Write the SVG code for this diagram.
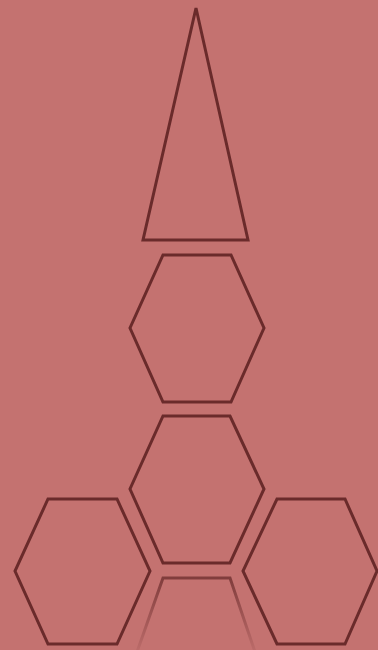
<svg xmlns="http://www.w3.org/2000/svg" width="378" height="650" viewBox="0 0 378 650">
<defs>
<style>
.s{fill:none;stroke:#6a2b2b;stroke-width:3;stroke-linejoin:miter}
</style>
<linearGradient id="fade" x1="0" y1="578" x2="0" y2="650" gradientUnits="userSpaceOnUse">
<stop offset="0" stop-color="#6a2b2b" stop-opacity="0.75"/>
<stop offset="1" stop-color="#6a2b2b" stop-opacity="0.1"/>
</linearGradient>
</defs>
<rect width="378" height="650" fill="#c47270"/>
<g id="triangle"><polygon class="s" points="196,8 143,240 248,240"/></g>
<g id="hex1"><polygon class="s" points="163,255 231,255 264,328 231,402 163,402 130,328"/></g>
<g id="hex2"><polygon class="s" points="163,416 230,416 264,489 230,563 163,563 130,489"/></g>
<g id="hex3"><polygon class="s" points="48,499 117,499 150,571 117,644 48,644 15,571"/></g>
<g id="hex4"><polygon class="s" points="277,499 345,499 377,571 345,644 277,644 243,571"/></g>
<g id="hex5"><polyline fill="none" stroke="url(#fade)" stroke-width="3" points="137,652 163,578 230,578 255,652"/></g>
</svg>
